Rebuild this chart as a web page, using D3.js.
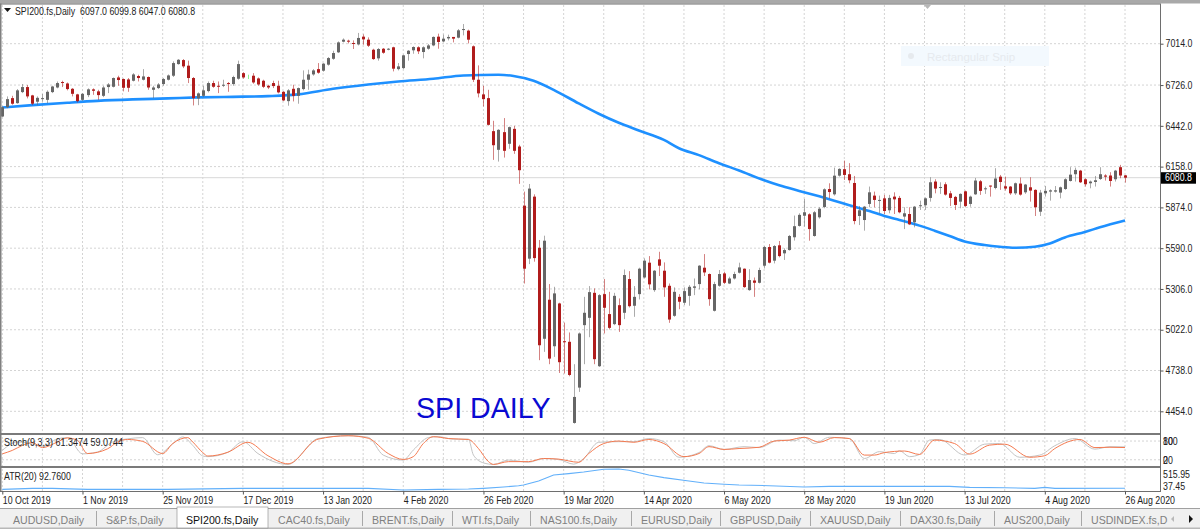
<!DOCTYPE html>
<html>
<head>
<meta charset="utf-8">
<script src="https://cdn.jsdelivr.net/npm/d3@7"></script>
<style>
  html, body { margin: 0; padding: 0; background: #fff; overflow: hidden; }
  text { font-family: "Liberation Sans", Arial, sans-serif; }
</style>
</head>
<body>
<svg id="vis"></svg>
<script>
// daily candles, oldest first
const open = [
  6507,6572,6635,6600,6677,6712,6654,6610,6628,6623,
  6677,6709,6747,6737,6700,6661,6623,6656,6696,6682,
  6651,6712,6714,6779,6768,6765,6756,6789,6763,6782,
  6693,6705,6733,6763,6791,6872,6900,6861,6775,6633,
  6651,6684,6740,6721,6723,6740,6733,6770,6809,6782,
  6791,6772,6756,6721,6740,6721,6679,6614,6700,6651,
  6698,6763,6800,6837,6826,6868,6909,6954,7028,7035,
  7019,7009,7063,7042,6972,6912,6979,6972,6989,6837,
  6844,6942,6968,6989,6956,6979,7002,7063,7030,7051,
  7061,7056,7112,7105,6996,6763,6661,6635,6405,6275,
  6398,6317,6421,6298,5886,5517,5949,5593,4959,5231,
  4907,5205,4942,4938,4373,4619,5054,5105,5279,4768,
  5270,5131,5061,5193,5140,5375,5189,5270,5386,5489,
  5298,5512,5433,5328,5119,5251,5210,5258,5314,5340,
  5454,5410,5154,5328,5414,5344,5379,5419,5447,5298,
  5365,5349,5468,5598,5503,5610,5554,5577,5666,5745,
  5816,5826,5675,5805,5877,6002,5965,6095,6140,6105,
  6044,5814,5786,5898,5956,5919,5937,5854,5949,5940,
  5810,5828,5770,5884,5889,5940,6054,6009,6035,5972,
  5947,5914,5986,5898,5965,6056,6000,6026,6009,6088,
  6021,6019,5972,6040,5979,6014,5996,5844,5972,5984,
  5984,5977,6002,6058,6105,6130,6070,6042,6051,6072,
  6096,6096,6070,6154,6097];
const close = [
  6572,6628,6596,6689,6712,6647,6596,6637,6635,6679,
  6716,6740,6740,6698,6665,6614,6665,6696,6686,6656,
  6709,6730,6775,6761,6707,6707,6800,6775,6786,6709,
  6709,6730,6768,6793,6879,6902,6856,6775,6635,6668,
  6689,6740,6714,6716,6728,6733,6782,6872,6779,6782,
  6744,6730,6714,6709,6719,6675,6619,6689,6651,6705,
  6763,6800,6828,6812,6875,6914,6949,7023,7042,7030,
  7012,7054,7044,7000,6907,6977,6951,6979,6840,6856,
  6933,6965,6991,6961,6989,7002,7061,7026,7049,7061,
  7049,7107,7116,7042,6763,6668,6628,6449,6307,6414,
  6268,6433,6268,6133,5447,6005,5521,4914,5642,4821,
  5275,4796,4940,4707,4554,4996,5140,5284,4817,5263,
  5175,5035,5258,5054,5403,5186,5251,5447,5503,5338,
  5433,5468,5317,5093,5286,5217,5291,5321,5324,5468,
  5421,5235,5340,5410,5349,5379,5410,5456,5319,5368,
  5349,5438,5598,5489,5605,5535,5577,5675,5743,5822,
  5840,5723,5840,5865,6000,5981,6095,6142,6100,6063,
  5779,5854,5879,5979,5926,5926,5849,5940,5930,5840,
  5833,5756,5879,5889,5937,6049,6005,6016,5963,5940,
  5891,5968,5884,5949,6061,5989,6007,6019,6075,6051,
  6005,5972,6042,5963,6033,5991,5875,5977,5989,5993,
  5993,6014,6070,6102,6135,6049,6035,6054,6063,6105,
  6088,6058,6130,6096,6080.8];
const high = [
  6577,6647,6651,6698,6733,6726,6658,6647,6663,6689,
  6721,6751,6756,6744,6705,6665,6670,6703,6703,6693,
  6721,6740,6779,6791,6772,6775,6809,6798,6837,6786,
  6721,6740,6775,6800,6891,6907,6907,6896,6782,6675,
  6721,6751,6756,6751,6763,6747,6791,6896,6816,6798,
  6809,6779,6763,6728,6756,6756,6684,6698,6728,6709,
  6828,6833,6837,6879,6879,6921,6965,7030,7051,7042,
  7037,7089,7079,7058,6979,6984,6984,6984,6993,6879,
  6937,6970,6996,6996,6996,7012,7065,7084,7077,7077,
  7061,7116,7151,7112,7002,6863,6721,6693,6477,6419,
  6496,6437,6442,6310,5984,6037,5965,5647,5677,5340,
  5321,5210,5072,5003,4782,5003,5251,5326,5310,5270,
  5375,5286,5279,5240,5442,5430,5326,5454,5519,5535,
  5438,5565,5491,5344,5317,5270,5317,5333,5379,5472,
  5549,5414,5356,5438,5426,5391,5426,5489,5449,5444,
  5386,5454,5605,5619,5612,5640,5589,5682,5817,5833,
  5933,5833,5849,5875,6007,6042,6151,6147,6200,6182,
  6093,5884,5884,6019,5984,5956,5961,5961,5979,5954,
  5875,5875,5884,5921,5944,6084,6070,6049,6049,5989,
  5954,5972,5991,5956,6079,6065,6019,6026,6147,6100,
  6088,6023,6047,6082,6037,6084,6000,5996,6023,6000,
  6023,6019,6077,6154,6151,6135,6077,6061,6093,6154,
  6105,6119,6135,6170,6099.8];
const low = [
  6503,6565,6589,6596,6670,6633,6586,6586,6612,6600,
  6670,6703,6712,6689,6647,6605,6616,6642,6658,6623,
  6642,6670,6709,6721,6682,6679,6751,6751,6758,6693,
  6635,6698,6721,6758,6782,6868,6844,6740,6584,6586,
  6642,6675,6707,6670,6712,6679,6721,6763,6770,6768,
  6735,6721,6705,6698,6705,6668,6614,6582,6612,6596,
  6689,6693,6791,6805,6819,6861,6902,6949,7023,7016,
  6977,7002,7007,6991,6902,6896,6944,6968,6821,6828,
  6837,6896,6944,6942,6912,6972,6996,6979,7026,7037,
  7023,7051,7072,7016,6747,6640,6577,6444,6205,6193,
  6221,6282,6247,6038,5344,5479,5496,4810,4868,4782,
  4833,4721,4717,4698,4368,4589,4782,4970,4782,4763,
  4996,5024,5054,5007,5096,5177,5112,5233,5379,5303,
  5286,5396,5251,5070,5112,5165,5193,5189,5263,5303,
  5396,5189,5149,5321,5340,5340,5372,5414,5314,5293,
  5251,5344,5449,5484,5484,5526,5508,5573,5643,5740,
  5740,5642,5670,5796,5868,5937,5956,6088,6065,6042,
  5756,5751,5712,5875,5875,5833,5828,5833,5828,5833,
  5723,5751,5735,5856,5856,5914,5972,5968,5956,5884,
  5856,5868,5875,5879,5961,5961,5968,5949,6000,5996,
  5991,5961,5961,5956,5968,5914,5814,5814,5949,5921,
  5977,5937,5996,6054,6054,6044,6019,6007,6019,6065,
  6061,6019,6054,6077,6047];

// moving average, read at these bars
const maBars = [0,6,13,19,26,33,39,46,53,59,66,73,79,86,92,99,102,106,110,115,119,123,127,132,135,139,143,147,152,155,159,163,166,169,173,176,179,183,186,189,192,196,199,202,206,209,212,216,219,224];
const maValues = [6570,6586,6603,6616,6626,6633,6640,6644,6649,6661,6700,6730,6751,6770,6793,6798,6789,6756,6693,6598,6526,6463,6410,6344,6286,6238,6182,6131,6063,6028,5989,5951,5921,5889,5849,5814,5786,5747,5712,5675,5637,5612,5600,5593,5600,5623,5665,5703,5735,5782];

const stochMainBars = [0,3,5,8,11,13,16,19,22,25,28,31,34,36,38,40,41,45,48,51,57,63,69,73,76,80,82,85,87,90,93,94,96,98,101,105,108,111,114,116,119,123,126,129,132,135,139,141,144,148,151,155,158,160,162,165,169,172,175,178,179,181,183,185,187,192,196,199,203,207,210,214,218,221,224];
const stochMainValues = [50,77,74,64,87,91,39,45,77,87,91,36,71,93,66,32,30,44,78,40,5,88,97,92,35,19,51,91,94,86,86,35,10,5,19,12,24,21,6,24,76,78,78,88,78,28,43,65,53,62,59,83,81,92,72,92,88,24,46,40,49,30,37,83,85,35,70,72,28,35,65,88,54,62,61.3];
const stochSignalBars = [0,2,4,6,8,11,13,15,17,21,23,25,28,32,34,37,38,40,41,45,49,53,57,63,69,73,77,80,82,84,86,89,93,95,97,98,101,105,108,111,115,117,120,123,126,129,132,136,139,141,144,147,151,154,157,160,163,166,169,172,174,176,180,183,186,190,193,197,200,205,208,210,215,218,221,224];
const stochSignalValues = [39,50,66,75,59,77,90,82,40,55,77,85,79,40,72,91,77,43,32,44,76,33,7,86,97,89,40,21,30,72,94,88,85,56,14,5,14,14,24,22,12,40,72,80,76,85,72,30,40,62,53,56,60,80,83,92,76,91,88,35,35,43,48,37,83,72,38,67,70,28,33,56,85,59,60,59.1];
const stochLabels = [100, 80, 20, 0];

const atrBars = [0,6,10,17,33,48,73,80,87,93,96,100,103,104,107,110,113,116,120,123,125,129,132,137,140,144,147,153,160,165,172,182,189,193,200,206,208,210,224];
const atrValues = [70,92,92,70,70,92,92,55,70,77,92,121,150,165,253,384,414,450,509,516,487,384,326,253,209,180,165,150,121,136,136,136,136,114,106,92,114,92,92.76];
const atrLabels = ["515.95", "37.45"];

const priceTicks = [7014,6726,6442,6158,5874,5590,5306,5022,4738,4454];
const dateLabels = ["10 Oct 2019","1 Nov 2019","25 Nov 2019","17 Dec 2019","13 Jan 2020","4 Feb 2020","26 Feb 2020","19 Mar 2020","14 Apr 2020","6 May 2020","28 May 2020","19 Jun 2020","13 Jul 2020","4 Aug 2020","26 Aug 2020"];
const tabNames = ["AUDUSD,Daily","S&P.fs,Daily","SPI200.fs,Daily","CAC40.fs,Daily","BRENT.fs,Daily","WTI.fs,Daily","NAS100.fs,Daily","EURUSD,Daily","GBPUSD,Daily","XAUUSD,Daily","DAX30.fs,Daily","AUS200,Daily","USDINDEX.fs,D"];
const title = "SPI200.fs,Daily  6097.0 6099.8 6047.0 6080.8";

const WIDTH = 1200, HEIGHT = 529;
const RIGHT = 1160;
const lastPrice = close[close.length - 1];
const tabEdges = [0,96,176,268,362,452,530,631,720,810,900,994,1081,1170];
const FONT = 10;
const TEXT_COLOR = "#222";

const svg = d3.select("#vis").attr("width", WIDTH).attr("height", HEIGHT).style("display", "block");

const x = d3.scaleLinear().domain([0, 224]).range([2.3, 1125]);
const y = d3.scaleLinear().domain([7014, 4454]).range([43.7, 411.3]);
const yStoch = d3.scaleLinear().domain([0, 100]).range([466, 434.8]);
const yAtr = d3.scaleLinear().domain([92.76, 515.95]).range([488.3, 469]);

// the terminal font is narrower than anything installed, so squeeze the glyphs
function squeeze(sel, ratio) {
    sel.attr("lengthAdjust", "spacingAndGlyphs")
        .attr("textLength", function() { return this.getComputedTextLength() * ratio; });
}

svg.append("rect").attr("width", WIDTH).attr("height", HEIGHT).attr("fill", "#fff");

// vertical grid, every 8 bars through all three panels
const gridBars = d3.range(0, 225, 8);
svg.append("g").selectAll("line").data(gridBars).join("line")
    .attr("x1", d => x(d)).attr("x2", d => x(d))
    .attr("y1", 5).attr("y2", 491)
    .attr("stroke", "#d4d4d4").attr("stroke-dasharray", "2,2");

// horizontal grid
svg.append("g").selectAll("line").data(priceTicks).join("line")
    .attr("x1", 2).attr("x2", RIGHT)
    .attr("y1", d => y(d)).attr("y2", d => y(d))
    .attr("stroke", "#d4d4d4").attr("stroke-dasharray", "2,2");
svg.append("g").selectAll("line").data([80, 20]).join("line")
    .attr("x1", 2).attr("x2", RIGHT)
    .attr("y1", d => yStoch(d)).attr("y2", d => yStoch(d))
    .attr("stroke", "#d4d4d4").attr("stroke-dasharray", "2,2");

// the snipping tool tooltip that was caught in the screenshot
svg.append("rect").attr("x", 901).attr("y", 46).attr("width", 148).attr("height", 20).attr("fill", "#f3f9fe");
svg.append("circle").attr("cx", 911).attr("cy", 56).attr("r", 3).attr("fill", "#e6eaee");
svg.append("text").attr("x", 927).attr("y", 61).attr("font-size", 11.5).attr("fill", "#e6eaee").text("Rectangular Snip");
svg.append("path").attr("d", "M924,5 L931,5 L927.5,9 Z").attr("fill", "#b8b8b8");

// last price line
svg.append("line").attr("x1", 2).attr("x2", RIGHT)
    .attr("y1", y(lastPrice)).attr("y2", y(lastPrice))
    .attr("stroke", "#d8d8d8");

// moving average sits under the candles
const maLine = d3.line().curve(d3.curveMonotoneX).x((d, i) => x(maBars[i])).y(d => y(d));
svg.append("path").datum(maValues).attr("d", maLine)
    .attr("fill", "none").attr("stroke", "#1e90ff").attr("stroke-width", 2.6);

const bars = d3.range(open.length);
const barColor = i => close[i] > open[i] ? "#666666" : close[i] < open[i] ? "#b01c1c" : "#32e632";

svg.append("g").selectAll("line").data(bars).join("line")
    .attr("x1", i => Math.round(x(i)) + 0.5).attr("x2", i => Math.round(x(i)) + 0.5)
    .attr("y1", i => y(high[i])).attr("y2", i => y(low[i]))
    .attr("stroke", barColor).attr("stroke-opacity", 0.55);

svg.append("g").selectAll("rect").data(bars.filter(i => open[i] !== close[i])).join("rect")
    .attr("x", i => Math.round(x(i)) - 1)
    .attr("width", 3)
    .attr("y", i => y(Math.max(open[i], close[i])))
    .attr("height", i => Math.max(1, Math.abs(y(open[i]) - y(close[i]))))
    .attr("fill", barColor);

svg.append("text").attr("x", 416).attr("y", 418).attr("font-size", 28.6)
    .attr("fill", "#0a0ad2").text("SPI DAILY");

// legend top left
svg.append("path").attr("d", "M4,8 L11,8 L7.5,12 Z").attr("fill", "#111");
svg.append("text").attr("x", 15).attr("y", 14.5).attr("font-size", FONT).attr("fill", TEXT_COLOR)
    .attr("xml:space", "preserve").text(title).call(squeeze, 0.88);

// stochastic
const stochMain = d3.line().curve(d3.curveMonotoneX).x((d, i) => x(stochMainBars[i])).y(d => yStoch(d));
const stochSignal = d3.line().curve(d3.curveMonotoneX).x((d, i) => x(stochSignalBars[i])).y(d => yStoch(d));
svg.append("path").datum(stochMainValues).attr("d", stochMain)
    .attr("fill", "none").attr("stroke", "#c4c4c4").attr("stroke-width", 1);
svg.append("path").datum(stochSignalValues).attr("d", stochSignal)
    .attr("fill", "none").attr("stroke", "#f57a50").attr("stroke-width", 1);
svg.append("text").attr("x", 4).attr("y", 445.5).attr("font-size", FONT).attr("fill", TEXT_COLOR)
    .text("Stoch(9,3,3) 61.3474 59.0744").call(squeeze, 0.9);

// atr
const atrLine = d3.line().x((d, i) => x(atrBars[i])).y(d => yAtr(d));
svg.append("path").datum(atrValues).attr("d", atrLine)
    .attr("fill", "none").attr("stroke", "#62b0fa").attr("stroke-width", 1.1);
svg.append("text").attr("x", 4).attr("y", 479.5).attr("font-size", FONT).attr("fill", TEXT_COLOR)
    .text("ATR(20) 92.7600").call(squeeze, 0.88);

// frame
const frame = svg.append("g");
frame.append("rect").attr("width", WIDTH).attr("height", 3.5).attr("fill", "#a9a9a9");
frame.append("rect").attr("y", 3.5).attr("width", RIGHT).attr("height", 1).attr("fill", "#6e6e6e");
frame.append("rect").attr("x", 0).attr("y", 3.5).attr("width", 1.5).attr("height", 488).attr("fill", "#808080");
frame.append("rect").attr("y", 433).attr("width", RIGHT).attr("height", 2).attr("fill", "#7a7a7a");
frame.append("rect").attr("y", 466).attr("width", RIGHT).attr("height", 2).attr("fill", "#7a7a7a");
frame.append("rect").attr("y", 491).attr("width", RIGHT).attr("height", 1).attr("fill", "#6e6e6e");
frame.append("rect").attr("x", RIGHT).attr("y", 3.5).attr("width", 1).attr("height", 488.5).attr("fill", "#6e6e6e");

// price axis
const priceAxis = d3.axisRight(y).tickValues(priceTicks).tickFormat(d3.format(".1f")).tickSize(3).tickPadding(2);
const priceG = svg.append("g").attr("transform", `translate(${RIGHT + 0.5},0)`).call(priceAxis);
priceG.select(".domain").remove();
priceG.selectAll("text").attr("font-size", FONT).attr("font-family", null).attr("fill", TEXT_COLOR).call(squeeze, 0.88);
priceG.selectAll("line").attr("stroke", "#555");

// current price box
svg.append("rect").attr("x", 1161).attr("y", y(lastPrice) - 5.5).attr("width", 35).attr("height", 11.5).attr("fill", "#000");
svg.append("text").attr("x", 1165).attr("y", y(lastPrice) + 3.5).attr("font-size", FONT).attr("fill", "#fff")
    .text(lastPrice.toFixed(1)).call(squeeze, 0.88);

// stochastic labels run into each other in the original too
svg.append("g").selectAll("text").data(stochLabels).join("text")
    .attr("x", 1163)
    .attr("y", d => d >= 50 ? 444.5 : 463.5)
    .attr("font-size", FONT).attr("fill", TEXT_COLOR).text(d => d).call(squeeze, 0.88);

svg.append("g").selectAll("text").data(atrLabels).join("text")
    .attr("x", 1163)
    .attr("y", (d, i) => i === 0 ? 478 : 489.5)
    .attr("font-size", FONT).attr("fill", TEXT_COLOR).text(d => d).call(squeeze, 0.88);

// date axis
const dateAxis = d3.axisBottom(x)
    .tickValues(dateLabels.map((d, i) => i * 16))
    .tickFormat((d, i) => dateLabels[i])
    .tickSize(3).tickPadding(2);
const dateG = svg.append("g").attr("transform", "translate(0,491.5)").call(dateAxis);
dateG.select(".domain").remove();
dateG.selectAll("text").attr("text-anchor", "start").attr("font-size", FONT).attr("font-family", null).attr("fill", TEXT_COLOR).call(squeeze, 0.88);
dateG.selectAll("line").attr("stroke", "#555");

// symbol tabs
svg.append("rect").attr("y", 508).attr("width", WIDTH).attr("height", 21).attr("fill", "#f0f0f0");
svg.append("rect").attr("y", 508).attr("width", WIDTH).attr("height", 1).attr("fill", "#a0a0a0");
svg.append("rect").attr("y", 527.5).attr("width", WIDTH).attr("height", 1.5).attr("fill", "#b8b8b8");

const ACTIVE = 2;
svg.append("rect").attr("x", tabEdges[ACTIVE] + 1).attr("y", 507).attr("width", tabEdges[ACTIVE + 1] - tabEdges[ACTIVE] - 1)
    .attr("height", 21).attr("fill", "#fff").attr("stroke", "#888").attr("stroke-width", 0.6);

svg.append("g").selectAll("line").data(tabEdges.slice(1, -1).filter((d, i) => i !== ACTIVE - 1 && i !== ACTIVE)).join("line")
    .attr("x1", d => d + 0.5).attr("x2", d => d + 0.5)
    .attr("y1", 511).attr("y2", 526)
    .attr("stroke", "#a8a8a8");

svg.append("g").selectAll("text").data(tabNames).join("text")
    .attr("x", (d, i) => tabEdges[i] + (i === 0 ? 13 : 10))
    .attr("y", 524)
    .attr("font-size", 11.5)
    .attr("fill", (d, i) => i === ACTIVE ? "#111" : "#808080")
    .text(d => d)
    .call(squeeze, 0.92);

svg.append("path").attr("d", "M1174,516 L1174,522 L1171,519 Z").attr("fill", "#b8b8b8");
svg.append("path").attr("d", "M1189,515 L1189,523 L1193,519 Z").attr("fill", "#111");
</script>
</body>
</html>
